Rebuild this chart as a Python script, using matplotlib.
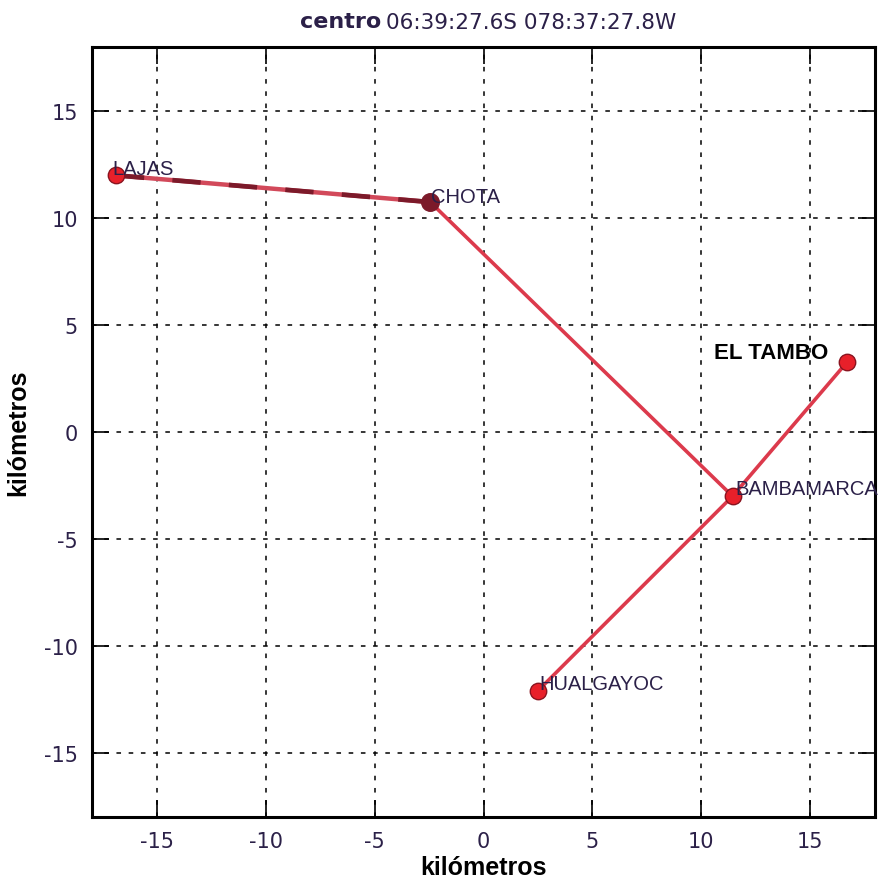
import matplotlib.pyplot as plt

# station positions (km from centre)
names = ['LAJAS', 'CHOTA', 'BAMBAMARCA', 'EL TAMBO', 'HUALGAYOC']
xs = [-16.9, -2.45, 11.45, 16.7, 2.5]
ys = [12.0, 10.75, -3.0, 3.25, -12.1]
links = [(1, 2), (2, 3), (2, 4)]
ticks = [-15, -10, -5, 0, 5, 10, 15]

fig = plt.figure(figsize=(8.9, 8.79), dpi=100)
ax = fig.add_axes([92 / 890, 61 / 879, 783 / 890, 770 / 879])

red = '#dc3a4c'
dark = '#7c1a2a'

# LAJAS - CHOTA: two-tone dashed segment
ax.plot([xs[0], xs[1]], [ys[0], ys[1]], color='#d2495a', lw=3.2, solid_capstyle='butt', zorder=3)
ax.plot([xs[0], xs[1]], [ys[0], ys[1]], color=dark, lw=3.4, dashes=(6, 6), zorder=3)
for a, b in links:
    ax.plot([xs[a], xs[b]], [ys[a], ys[b]], color=red, lw=2.6, zorder=3)

ax.scatter(xs[:1] + xs[2:], ys[:1] + ys[2:], s=140, color='#e8202a', edgecolor='#8a1420', lw=1, zorder=4)
ax.scatter([xs[1]], [ys[1]], s=160, color='#7c1a2a', zorder=4)

txt = '#2b2048'
fs = 14.5
lab = dict(color=txt, fontsize=fs, va='center', family='Liberation Sans', zorder=5)
ax.text(xs[0] - 0.15, ys[0] + 0.3, names[0], **lab)
ax.text(xs[1] + 0.05, ys[1] + 0.25, names[1], **lab)
ax.text(xs[2] + 0.15, ys[2] + 0.35, names[2], clip_on=False, **lab)
ax.text(xs[3] - 0.85, ys[3] + 0.45, names[3], color='black', fontsize=16, fontweight='bold',
        ha='right', va='center', family='Liberation Sans')
ax.text(xs[4] + 0.05, ys[4] + 0.35, names[4], **lab)

ax.set_xlim(-18, 18)
ax.set_ylim(-18, 18)
ax.set_xticks(ticks)
ax.set_yticks(ticks)
ax.set_xticklabels([str(t) for t in ticks])
ax.set_yticklabels([str(t) for t in ticks])
ax.grid(True, color='black', ls=(0, (3, 5)), lw=1.1)
ax.tick_params(direction='in', length=12, width=1.2, top=True, right=True,
               labelsize=15, labelcolor='#2b2048', pad=10)
for s in ax.spines.values():
    s.set_linewidth(2.2)

ax.set_xlabel('kilómetros', fontsize=18, fontweight='bold', family='Liberation Sans', labelpad=3)
ax.set_ylabel('kilómetros', fontsize=18, fontweight='bold', family='Liberation Sans', labelpad=10)

fig.text(381 / 890, 1 - 22 / 879, 'centro', ha='right', va='center', fontsize=16,
         fontweight='bold', color='#2b2048', family='DejaVu Sans')
fig.text(386 / 890, 1 - 23 / 879, '06:39:27.6S 078:37:27.8W', ha='left', va='center',
         fontsize=15.5, color='#2b2048')

fig.savefig('out.png', dpi=100)
